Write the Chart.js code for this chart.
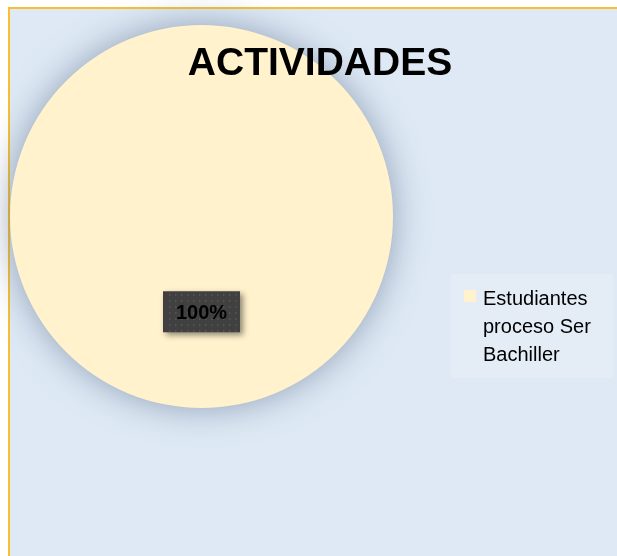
<!DOCTYPE html>
<html>
<head>
<meta charset="utf-8">
<script src="https://cdn.jsdelivr.net/npm/chart.js@4"></script>
<style>
  html, body { margin: 0; padding: 0; background: #fff; }
  #wrap { position: relative; width: 617px; height: 556px; }
</style>
</head>
<body>
<div id="wrap"><canvas id="chart" width="617" height="556"></canvas></div>
<script>
const categories = ['Estudiantes proceso Ser Bachiller'];
const legendLines = ['Estudiantes', 'proceso Ser', 'Bachiller'];
const values = [100];
const sliceColors = ['#FFF2CC'];
const chartTitle = 'ACTIVIDADES';

// frame, shadow, title, data label and legend drawn on the canvas
const excelLook = {
  id: 'excelLook',
  beforeDraw(chart) {
    const ctx = chart.ctx;
    ctx.save();
    ctx.fillStyle = '#ffffff';
    ctx.fillRect(0, 0, chart.width, chart.height);
    ctx.fillStyle = '#DEE9F5';
    ctx.fillRect(9, 8, chart.width - 9, chart.height - 8);
    ctx.strokeStyle = '#F8C030';
    ctx.lineWidth = 2;
    ctx.beginPath();
    ctx.moveTo(9, chart.height);
    ctx.lineTo(9, 8);
    ctx.lineTo(chart.width, 8);
    ctx.stroke();
    ctx.restore();
  },
  beforeDatasetDraw(chart) {
    const ctx = chart.ctx;
    ctx.save();
    ctx.shadowColor = 'rgba(80,100,130,0.55)';
    ctx.shadowBlur = 34;
    ctx.shadowOffsetX = 0;
    ctx.shadowOffsetY = 0;
  },
  afterDatasetDraw(chart) {
    chart.ctx.restore();
  },
  afterDraw(chart) {
    const ctx = chart.ctx;
    const arc = chart.getDatasetMeta(0).data[0];
    const pos = arc.tooltipPosition();
    ctx.save();
    // data label box
    const bw = 77, bh = 41;
    const bx = pos.x - bw / 2, by = pos.y - 21;
    ctx.shadowColor = 'rgba(0,0,0,0.45)';
    ctx.shadowBlur = 6;
    ctx.shadowOffsetX = 3;
    ctx.shadowOffsetY = 3;
    ctx.fillStyle = '#404040';
    ctx.fillRect(bx, by, bw, bh);
    ctx.shadowColor = 'transparent';
    ctx.fillStyle = '#585858';
    for (let y = by + 3; y < by + bh; y += 6) {
      for (let x = bx + 3 + ((y - by) % 12 ? 3 : 0); x < bx + bw; x += 6) {
        ctx.fillRect(x, y, 1.5, 1.5);
      }
    }
    ctx.fillStyle = '#000000';
    ctx.font = 'bold 20px "Liberation Sans", Arial, sans-serif';
    ctx.textAlign = 'center';
    ctx.textBaseline = 'middle';
    const total = values.reduce((a, b) => a + b, 0);
    ctx.fillText(Math.round(values[0] / total * 100) + '%', pos.x, pos.y + 1);

    // title
    ctx.font = 'bold 39px "Liberation Sans", Arial, sans-serif';
    ctx.textBaseline = 'alphabetic';
    ctx.fillText(chartTitle, 320, 75);

    // legend
    ctx.fillStyle = '#E4ECF6';
    ctx.fillRect(451, 274, 162, 104);
    ctx.fillStyle = sliceColors[0];
    ctx.fillRect(464, 290, 12, 12);
    ctx.fillStyle = '#000000';
    ctx.textAlign = 'left';
    ctx.font = '20px "Liberation Sans", Arial, sans-serif';
    legendLines.forEach((line, i) => {
      ctx.fillText(line, 483, 305 + i * 28);
    });
    ctx.restore();
  }
};

new Chart(document.getElementById('chart'), {
  type: 'pie',
  data: {
    labels: categories,
    datasets: [{
      data: values,
      backgroundColor: sliceColors,
      borderWidth: 0
    }]
  },
  options: {
    responsive: false,
    animation: false,
    layout: { padding: { left: 10, top: 25, right: 224, bottom: 148 } },
    plugins: {
      legend: { display: false },
      title: { display: false },
      tooltip: { enabled: false }
    }
  },
  plugins: [excelLook]
});
</script>
</body>
</html>
